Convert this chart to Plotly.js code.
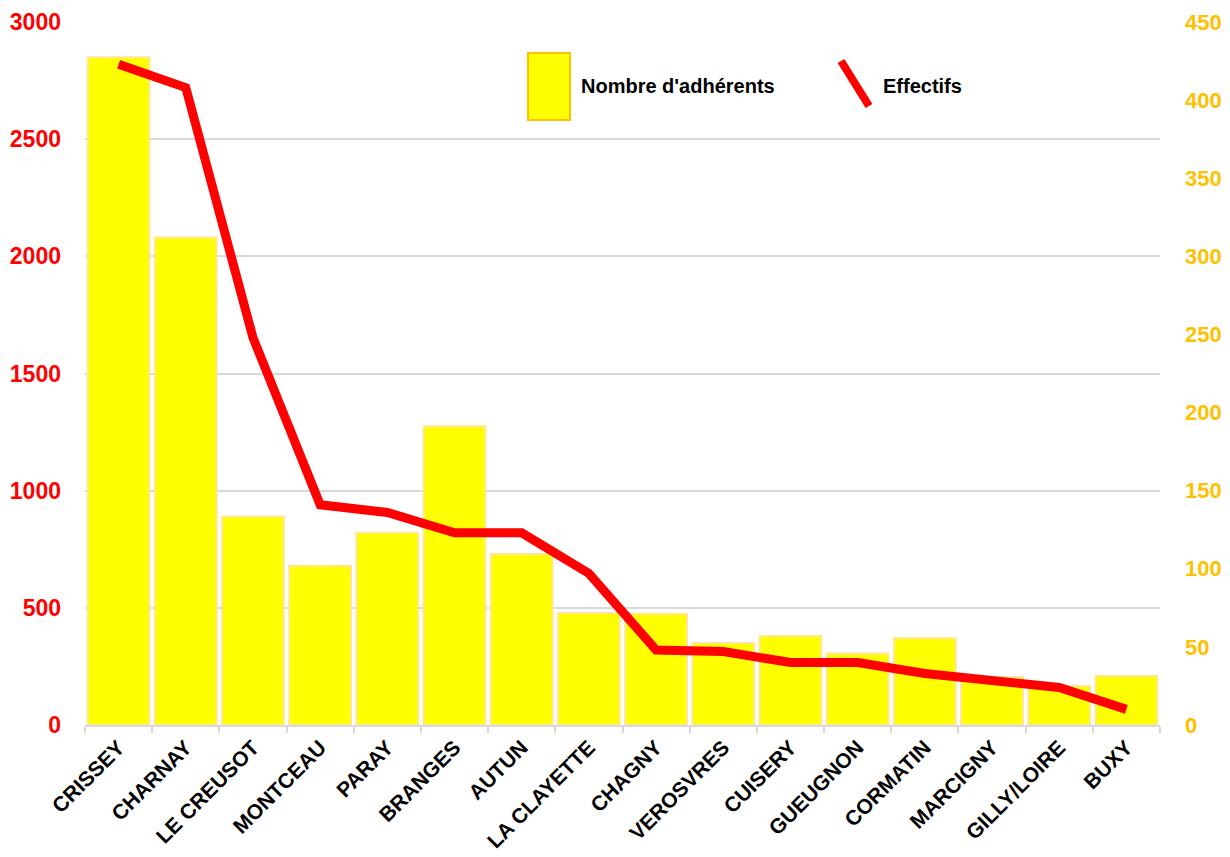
<!DOCTYPE html>
<html>
<head>
<meta charset="utf-8">
<script src="https://cdn.plot.ly/plotly-3.0.1.min.js"></script>
<style>html,body{margin:0;padding:0;background:#fff;}#chart{width:1230px;height:857px;}</style>
</head>
<body>
<div id="chart"></div>
<script>
const categories = ["CRISSEY","CHARNAY","LE CREUSOT","MONTCEAU","PARAY","BRANGES","AUTUN","LA CLAYETTE","CHAGNY","VEROSVRES","CUISERY","GUEUGNON","CORMATIN","MARCIGNY","GILLY/LOIRE","BUXY"];
const adherents = [2850, 2080, 890, 680, 820, 1275, 730, 478, 475, 350, 380, 305, 371, 205, 166, 209];
const effectifs = [423, 408, 248, 141, 136, 123, 123, 97, 48, 47, 40, 40, 33, 28, 24, 10];
const seriesNames = ["Nombre d'adhérents", "Effectifs"];
const leftTicks = [0, 500, 1000, 1500, 2000, 2500, 3000];
const rightTicks = [0, 50, 100, 150, 200, 250, 300, 350, 400, 450];

const FONT = '"Liberation Sans Narrow", "Arial Narrow", "Liberation Sans", Arial, sans-serif';
const M = {l: 85, r: 70, t: 22, b: 132};
const W = 1230, H = 857;
const pw = W - M.l - M.r, ph = H - M.t - M.b;
const px = x => (x - M.l) / pw;
const py = y => (H - M.b - y) / ph;

const traces = [
  {
    type: 'bar', name: seriesNames[0], x: categories, y: adherents,
    marker: {color: '#FFFF00', line: {color: '#FFE699', width: 2}},
    yaxis: 'y', hoverinfo: 'x+y'
  },
  {
    type: 'scatter', mode: 'lines', name: seriesNames[1], x: categories, y: effectifs,
    line: {color: '#FF0000', width: 9, shape: 'linear'},
    yaxis: 'y2'
  }
];

const layout = {
  width: W, height: H,
  margin: M,
  paper_bgcolor: '#fff', plot_bgcolor: '#fff',
  showlegend: false,
  bargap: 0.08,
  font: {family: FONT},
  xaxis: {
    type: 'category',
    tickangle: -45,
    tickfont: {family: FONT, size: 21, color: '#000', weight: 'bold'},
    showline: true, linecolor: '#D9D9D9', linewidth: 2,
    ticks: 'outside', tickson: 'boundaries', ticklen: 6, tickcolor: '#D9D9D9', tickwidth: 2,
    showgrid: false, zeroline: false
  },
  yaxis: {
    range: [0, 3000], tickvals: leftTicks,
    tickfont: {family: FONT, size: 23, color: '#FF0000', weight: 'bold'},
    showgrid: true, gridcolor: '#D9D9D9', gridwidth: 2,
    zeroline: false, showline: false, ticks: '', ticklabelstandoff: 23
  },
  yaxis2: {
    range: [0, 450], tickvals: rightTicks, overlaying: 'y', side: 'right',
    tickfont: {family: FONT, size: 22, color: '#FFC000', weight: 'bold'},
    showgrid: false, zeroline: false, showline: false, ticks: '', ticklabelstandoff: 24
  },
  shapes: [
    {type: 'rect', xref: 'paper', yref: 'paper', x0: px(528), x1: px(570), y0: py(120), y1: py(53),
     fillcolor: '#FFFF00', line: {color: '#FFC000', width: 2}},
    {type: 'line', xref: 'paper', yref: 'paper', x0: px(841), y0: py(61), x1: px(869), y1: py(106),
     line: {color: '#FF0000', width: 8}}
  ],
  annotations: [
    {xref: 'paper', yref: 'paper', x: px(579), y: py(86), xanchor: 'left', yanchor: 'middle', showarrow: false,
     text: seriesNames[0], font: {family: FONT, size: 20, color: '#000', weight: 'bold'}},
    {xref: 'paper', yref: 'paper', x: px(881), y: py(86), xanchor: 'left', yanchor: 'middle', showarrow: false,
     text: seriesNames[1], font: {family: FONT, size: 20, color: '#000', weight: 'bold'}}
  ]
};

Plotly.newPlot('chart', traces, layout, {displayModeBar: false, staticPlot: true});
</script>
</body>
</html>
